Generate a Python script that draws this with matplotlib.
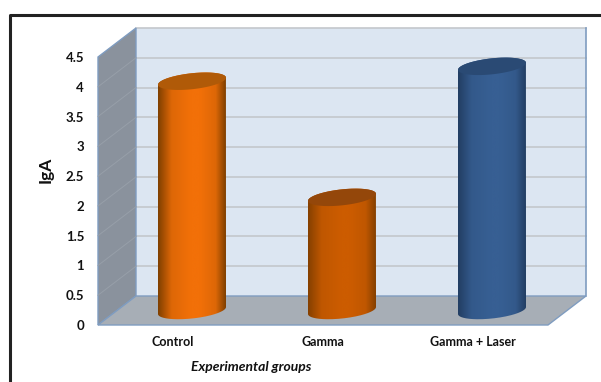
import numpy as np
import matplotlib
matplotlib.use('Agg')
from matplotlib import pyplot as plt
from matplotlib.colors import LinearSegmentedColormap, to_rgb
from matplotlib.lines import Line2D
from matplotlib.path import Path
from matplotlib.patches import PathPatch, Polygon

plt.rcParams['font.family'] = ['Lato', 'DejaVu Sans']

groups = ['Control', 'Gamma', 'Gamma + Laser']
iga = [3.85, 1.9, 4.1]
yticks = [0, 0.5, 1, 1.5, 2, 2.5, 3, 3.5, 4, 4.5]
yticklabels = ['0', '0.5', '1', '1.5', '2', '2.5', '3', '3.5', '4', '4.5']

# colours of each cylinder: shaded edge, body, top ellipse
edge_cols = ['#7f3f00', '#854000', '#223e63']
body_cols = ['#f27008', '#cc5c00', '#375f93']
top_cols = ['#b05a08', '#94470a', '#2a4a74']

W, H = 601, 382
fig = plt.figure(figsize=(W / 100, H / 100), dpi=100)
# axes = front plane of the 3d box, in pixels 98..548 / 325..57
ax = fig.add_axes([98 / W, 1 - 325 / H, 450 / W, 268 / H])
ax.set_xlim(0, 3)
ax.set_ylim(0, 4.5)

# depth of the box in data units (38 px right, 29 px up)
dx = 38 / 150
dy = 29 / (268 / 4.5)
line_col = '#7f9cc0'

# walls
ax.add_patch(Polygon([(dx, dy), (3 + dx, dy), (3 + dx, 4.5 + dy), (dx, 4.5 + dy)],
                     fc='#dce6f2', ec='none', clip_on=False, zorder=1))
ax.add_patch(Polygon([(0, 0), (0, 4.5), (dx, 4.5 + dy), (dx, dy)],
                     fc='#8a929d', ec=line_col, lw=1, clip_on=False, zorder=2))
ax.add_patch(Polygon([(0, 0), (3, 0), (3 + dx, dy), (dx, dy)],
                     fc='#a7aeb6', ec=line_col, lw=1, clip_on=False, zorder=2))

# grid lines on the back wall and the side wall
for v in yticks[1:]:
    ax.plot([dx, 3 + dx], [v + dy, v + dy], color='#c3c7cc', lw=1.2,
            clip_on=False, zorder=1.5)
for v in yticks[1:-1]:
    ax.plot([0, dx], [v, v + dy], color='#979fa9', lw=0.7,
            clip_on=False, zorder=3)
ax.plot([3 + dx, 3 + dx], [dy, 4.5 + dy], color=line_col, lw=1.2,
        clip_on=False, zorder=3)

# cylinders
a = 34 / 150
b = 8 / (268 / 4.5)
k = 3.5 / (268 / 4.5)
t = np.linspace(0, 2 * np.pi, 181)
ramp = np.linspace(0, 1, 256).reshape(1, -1)


def mix(c1, c2, f):
    return tuple(np.array(to_rgb(c1)) * (1 - f) + np.array(to_rgb(c2)) * f)


for i, val in enumerate(iga):
    cx = i + 0.5 + dx / 2
    y0 = dy / 2
    y1 = val + dy / 2
    tt = t[:91] + np.pi  # lower half, left to right
    xb = cx + a * np.cos(tt)
    yb = y0 + b * np.sin(tt) + k * np.cos(tt)
    xt = cx + a * np.cos(t[:91])  # upper half, right to left
    yt = y1 + b * np.sin(t[:91]) + k * np.cos(t[:91])
    body = Path(np.vstack([np.c_[xb, yb], np.c_[xt, yt], [[xb[0], yb[0]]]]))
    near = mix(edge_cols[i], body_cols[i], 0.82)
    cm = LinearSegmentedColormap.from_list('c', [(0, edge_cols[i]), (0.2, near),
                                                 (0.48, body_cols[i]), (0.62, body_cols[i]),
                                                 (0.85, near), (1, edge_cols[i])])
    im = ax.imshow(ramp, cmap=cm, aspect='auto', zorder=4,
                   extent=(cx - a, cx + a, y0 - 2 * b, y1 + 2 * b))
    clip = PathPatch(body, transform=ax.transData, fc='none', ec='none')
    ax.add_patch(clip)
    im.set_clip_path(clip)
    ax.fill(cx + a * np.cos(t), y1 + b * np.sin(t) + k * np.cos(t),
            color=top_cols[i], lw=0, zorder=5)

ax.set_xlim(0, 3)
ax.set_ylim(0, 4.5)

for s in ax.spines.values():
    s.set_visible(False)
ax.set_facecolor('none')
ax.set_yticks(yticks)
ax.set_yticklabels(yticklabels, fontsize=9.5, fontweight='bold', color='#111111')
ax.set_xticks([0.5, 1.5, 2.5])
ax.set_xticklabels(groups, fontsize=9, fontweight='bold', color='#111111')
ax.tick_params(axis='y', length=0, pad=10)
ax.tick_params(axis='x', length=0, pad=8)

fig.text(46 / W, 1 - 170 / H, 'IgA', rotation=90, fontsize=12.5, fontweight='bold',
         ha='center', va='center', color='#111111')
fig.text(251 / W, 1 - 367 / H, 'Experimental groups', fontsize=10, fontweight='bold',
         style='italic', ha='center', va='center', color='#111111')

# outer frame, runs off the right and bottom of the picture
fig.add_artist(Line2D([10 / W, 10 / W, 1], [0, 1 - 15 / H, 1 - 15 / H],
                      transform=fig.transFigure, color='#222222', lw=2.2))

fig.savefig('out.png', dpi=100, facecolor='white')
